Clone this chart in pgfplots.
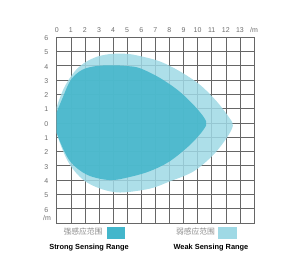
\documentclass[border=0pt]{standalone}
\usepackage{pgfplots}
\pgfplotsset{compat=1.18}
\usepackage{fontspec}
\setmainfont{Liberation Sans}
\newfontfamily\cjk{Noto Sans CJK SC}
\definecolor{strong}{HTML}{43B6CB}
\definecolor{weak}{HTML}{9FD9E5}
\definecolor{lab}{HTML}{6E6E6E}
\begin{document}
\begin{tikzpicture}
\useasboundingbox (-56.7pt,-35pt) rectangle (243.3pt,223pt);
\begin{axis}[at={(0,0)}, anchor=south west, scale only axis,
  width=197.3pt, height=186pt,
  xmin=0, xmax=14, ymin=-7, ymax=6,
  xtick={0,1,2,3,4,5,6,7,8,9,10,11,12,13,14},
  xticklabels={0,1,2,3,4,5,6,7,8,9,10,11,12,13,/m},
  ytick={-7,-6,-5,-4,-3,-2,-1,0,1,2,3,4,5,6},
  yticklabels={,6,5,4,3,2,1,0,1,2,3,4,5,6},
  xticklabel pos=upper,
  major tick length=0pt,
  grid=major,
  major grid style={black!60, line width=0.55pt},
  axis line style={black!60, line width=0.8pt},
  tick label style={font=\fontsize{7}{8}\selectfont, text=lab},
  x tick label style={anchor=center, yshift=6.5pt},
  y tick label style={anchor=center, xshift=-10.5pt, yshift=-1pt},
  clip=true,
]
\addplot[draw=none, fill=weak, fill opacity=0.85, smooth cycle, tension=0.55] coordinates {
(-0.1,0.8) (0.5,2.4) (1.2,3.5) (1.9,4.15) (2.85,4.62) (3.9,4.82) (5.0,4.82) (5.9,4.67) (7.3,4.3) (8.7,3.62) (10.15,2.67) (11.35,1.5) (12.25,0.35) (12.5,-0.2) (12.05,-1.07) (11.1,-2.25) (9.7,-3.4) (8.0,-4.1) (6.6,-4.6) (4.5,-4.87) (3.1,-4.6) (1.9,-4.0) (0.95,-2.95) (0.3,-1.6) (-0.2,0)
};
\addplot[draw=none, fill=strong, fill opacity=0.88, smooth cycle, tension=0.55] coordinates {
(-0.05,0.6) (0.4,1.7) (1.0,3.0) (1.8,3.7) (2.8,3.97) (4.0,4.02) (5.0,3.97) (5.9,3.82) (7.3,3.15) (8.7,2.2) (9.9,1.05) (10.6,0.1) (10.4,-0.5) (9.45,-1.55) (8.0,-2.7) (6.6,-3.38) (5.2,-3.78) (3.8,-4.0) (2.2,-3.65) (1.0,-2.75) (0.25,-1.35) (-0.2,0)
};
\end{axis}
\node[font=\fontsize{7}{8}\selectfont, text=lab] at (-9.7pt,5pt) {/m};
\node[font=\cjk\fontsize{7.8}{8}\selectfont, text=black!45] at (26.3pt,-9pt) {强感应范围};
\fill[strong] (50.3pt,-4pt) rectangle (68.3pt,-16pt);
\node[font=\fontsize{7.4}{8}\selectfont\bfseries] at (32.3pt,-25pt) {Strong Sensing Range};
\node[font=\cjk\fontsize{7.8}{8}\selectfont, text=black!45] at (138.8pt,-9pt) {弱感应范围};
\fill[weak] (161.3pt,-4pt) rectangle (180.3pt,-16pt);
\node[font=\fontsize{7.4}{8}\selectfont\bfseries] at (154.3pt,-25pt) {Weak Sensing Range};
\end{tikzpicture}
\end{document}
